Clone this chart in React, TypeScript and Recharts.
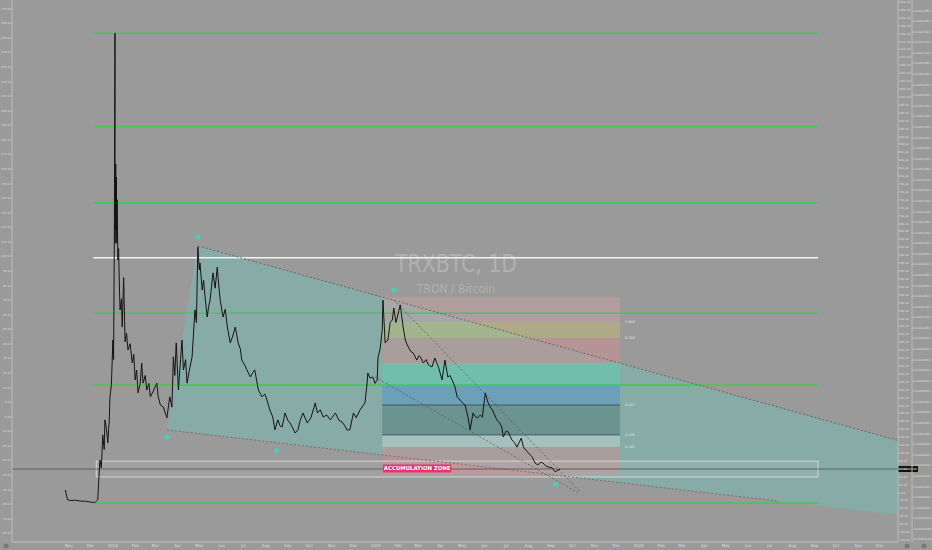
import React from "react";
import {
  ComposedChart,
  Line,
  Area,
  Scatter,
  XAxis,
  YAxis,
  ReferenceLine,
  ReferenceArea,
} from "recharts";

document.body.style.margin = "0";
document.body.style.background = "#9a9a9a";

// x = days counted from 2018-01-01, y = price in satoshi (1e-8 BTC)
const priceDays = [
  -66, -63, -59, -52, -45, -38, -31, -25, -21, -18, -16, -14, -12, -11, -9, -7, -5, -4, -2, 0, 1, 2,
  3, 3, 4, 4, 5, 5, 6, 7, 8, 9, 10, 12, 13, 15, 17, 19, 21, 24, 27, 29, 31, 33, 35, 38, 40, 42, 45,
  47, 50, 52, 56, 61, 63, 66, 70, 75, 79, 82, 84, 86, 88, 91, 94, 96, 98, 101, 103, 107, 110, 114,
  116, 118, 120, 121, 124, 126, 128, 131, 133, 135, 139, 142, 145, 146, 149, 153, 156, 159, 163,
  166, 170, 174, 177, 179, 183, 186, 191, 194, 197, 202, 207, 211, 214, 218, 222, 225, 229, 232,
  235, 239, 243, 246, 250, 253, 257, 260, 264, 270, 275, 281, 284, 288, 292, 297, 302, 309, 314,
  318, 322, 325, 329, 334, 338, 343, 350, 353, 354, 357, 361, 364, 367, 368, 371, 374, 375, 378,
  382, 385, 388, 390, 393, 395, 399, 403, 406, 410, 414, 417, 422, 425, 427, 431, 435, 438, 443,
  447, 450, 452, 457, 461, 465, 468, 471, 475, 478, 482, 486, 489, 493, 496, 500, 503, 506, 510,
  513, 517, 521, 524, 527, 533, 537, 540, 542, 546, 549, 554, 558, 561, 567, 570, 574, 577, 582,
  586, 590, 594, 597, 601, 604, 610, 614, 618, 621,
];
const priceSats = [
  67, 30, 27, 28, 25, 24, 21, 19, 30, 180, 150, 275, 220, 332, 300, 245, 330, 419, 464, 634, 560,
  975, 1795, 1000, 1300, 1050, 1250, 1000, 1164, 937, 980, 850, 748, 790, 683, 870, 627, 660, 596,
  620, 547, 580, 483, 520, 434, 470, 547, 471, 500, 445, 470, 419, 440, 471, 419, 388, 381, 339,
  419, 380, 570, 500, 623, 445, 560, 634, 521, 560, 471, 530, 570, 748, 700, 986, 900, 925, 823,
  860, 797, 721, 760, 785, 888, 830, 910, 872, 785, 721, 750, 683, 623, 645, 683, 623, 600, 558,
  540, 521, 494, 510, 521, 445, 419, 430, 407, 369, 343, 294, 332, 310, 305, 358, 330, 320, 300,
  282, 294, 330, 358, 320, 340, 396, 358, 370, 343, 350, 332, 358, 330, 324, 310, 294, 294, 358,
  340, 369, 396, 471, 509, 490, 494, 470, 483, 566, 600, 672, 785, 623, 634, 700, 710, 755, 700,
  721, 767, 683, 634, 608, 590, 585, 558, 575, 570, 547, 560, 540, 532, 566, 545, 532, 483, 558,
  494, 500, 483, 456, 419, 407, 395, 388, 343, 294, 358, 345, 339, 350, 343, 434, 396, 380, 369,
  332, 320, 305, 267, 290, 286, 256, 245, 229, 263, 229, 215, 207, 192, 169, 161, 172, 169, 158,
  154, 150, 135, 142, 146,
];

const monthTicks = [
  -61, -31, 0, 31, 59, 90, 120, 151, 181, 212, 243, 273, 304, 334, 365, 396, 424, 455, 485, 516,
  546, 577, 608, 638, 669, 699, 730, 761, 790, 821, 851, 882, 912, 943, 974, 1004, 1035, 1065,
];
const monthLabels = [
  "Nov", "Dec", "2018", "Feb", "Mar", "Apr", "May", "Jun", "Jul", "Aug", "Sep", "Oct", "Nov", "Dec",
  "2019", "Feb", "Mar", "Apr", "May", "Jun", "Jul", "Aug", "Sep", "Oct", "Nov", "Dec",
  "2020", "Feb", "Mar", "Apr", "May", "Jun", "Jul", "Aug", "Sep", "Oct", "Nov", "Dec",
];

// horizontal levels
const greenLevels = [1794, 1441, 1153, 735, 464, 17];
const whiteLevel = 945;
const levelFrom = -27;
const levelTo = 979;
const currentPrice = 146;

// falling wedge
const wedgeDays = [75, 118, 1090];
const wedgeLow = [294, 280, -28];
const wedgeHigh = [294, 990, 254];
const wedgeUpper = [
  { d: 118, p: 990 },
  { d: 1090, p: 254 },
];
const wedgeLower = [
  { d: 75, p: 294 },
  { d: 923, p: 25 },
];
const trendA = [
  { d: 390, p: 785 },
  { d: 649, p: 59 },
];
const trendB = [
  { d: 364, p: 494 },
  { d: 646, p: 56 },
];

// pivot markers
const pivotDays = [118, 75, 227, 390, 614];
const pivotSats = [1024, 267, 216, 823, 89];

// fib box
const fibFrom = 374;
const fibTo = 704;
const fibEdges = [797, 702, 642, 547, 464, 388, 275, 229, 124];
const fibLabels = ["", "0.886", "0.786", "", "", "0.382", "0.236", "0.146", ""];
const fibColors = ["#dba2a6", "#cfc46a", "#e58a8c", "#4fe0b0", "#3f8fd4", "#3d6b70", "#d8e4e4", "#e5868e"];

// accumulation zone
const zoneFrom = -23;
const zoneTo = 979;
const zoneLow = 116;
const zoneHigh = 176;
const zoneTagFrom = 375;
const zoneTagTo = 470;
const zoneTagLow = 133;
const zoneTagHigh = 163;

// axis ticks
const leftTicks = Array.from({ length: 37 }, (_, i) => 275 - i * 10);
const priceTicks = Array.from({ length: 51 }, (_, i) => -120 + i * 40);
const altTicks = Array.from({ length: 69 }, (_, i) => -120 + i * 20);

const priceData = priceDays.map((d, i) => ({ d, p: priceSats[i] }));
const wedgeData = wedgeDays.map((d, i) => ({ d, band: [wedgeLow[i], wedgeHigh[i]] }));
const pivotData = pivotDays.map((d, i) => ({ d, p: pivotSats[i] }));

const fmtSats = (v: number) => (v * 1e-8).toFixed(8);
const tickStyle = { fontSize: 2.9, fill: "#dedede" };

const PriceTag = (props: any) => {
  const vb = props.viewBox || {};
  const x = (vb.x ?? 0) + (vb.width ?? 0);
  const y = vb.y ?? 0;
  return (
    <g>
      <rect x={x} y={y - 3} width={20} height={6} fill="#111" />
      <text x={x + 10} y={y + 1.1} fontSize={2.9} fill="#eee" textAnchor="middle">
        {fmtSats(currentPrice)}
      </text>
    </g>
  );
};

const PivotDot = (props: any) => <circle cx={props.cx} cy={props.cy} r={2.6} fill="#55c9b3" />;

export default function App() {
  return (
    <div style={{ position: "relative", width: 932, height: 550, background: "#9a9a9a", overflow: "hidden" }}>
      <svg width={932} height={550} style={{ position: "absolute", left: 0, top: 0 }}>
        <text x={456} y={272} fontSize={25} fill="#b1b1b1" textAnchor="middle" textLength={122} lengthAdjust="spacingAndGlyphs" fontFamily="DejaVu Sans">
          TRXBTC, 1D
        </text>
        <text x={456} y={293} fontSize={13} fill="#b1b1b1" textAnchor="middle" textLength={78} lengthAdjust="spacingAndGlyphs" fontFamily="DejaVu Sans">
          TRON / Bitcoin
        </text>
        <circle cx={6} cy={546} r={2.5} fill="#7a7a7a" />
        <circle cx={907} cy={546} r={2.5} fill="#7a7a7a" />
        <circle cx={924} cy={546} r={2.5} fill="#7a7a7a" />
      </svg>
      <ComposedChart
        width={932}
        height={550}
        margin={{ top: 0, right: 0, bottom: 0, left: 0 }}
        style={{ fontFamily: "DejaVu Sans" }}
      >
        <XAxis
          dataKey="d"
          type="number"
          domain={[-140, 1090]}
          allowDataOverflow
          ticks={monthTicks}
          interval={0}
          tickFormatter={(v: number) => monthLabels[monthTicks.indexOf(v)] ?? ""}
          height={8}
          tick={{ fontSize: 4, fill: "#dedede" }}
          tickLine={false}
          tickSize={0}
          tickMargin={2}
          axisLine={{ stroke: "#bdbdbd" }}
        />
        <YAxis
          yAxisId="pct"
          orientation="left"
          width={12}
          type="number"
          domain={[-91, 281]}
          allowDataOverflow
          ticks={leftTicks}
          interval={0}
          tickFormatter={(v: number) => v.toFixed(2)}
          tick={tickStyle}
          tickLine={false}
          tickSize={0}
          tickMargin={0.8}
          axisLine={{ stroke: "#bdbdbd" }}
        />
        <YAxis
          yAxisId="price"
          orientation="right"
          width={20}
          type="number"
          domain={[-130, 1920]}
          allowDataOverflow
          ticks={priceTicks}
          interval={0}
          tickFormatter={fmtSats}
          tick={tickStyle}
          tickLine={false}
          tickSize={0}
          tickMargin={0.8}
          axisLine={{ stroke: "#bdbdbd" }}
        />
        <YAxis
          yAxisId="alt"
          orientation="right"
          width={14}
          type="number"
          domain={[-125, 1245]}
          allowDataOverflow
          ticks={altTicks}
          interval={0}
          tickFormatter={(v: number) => v.toFixed(2)}
          tick={tickStyle}
          tickLine={false}
          tickSize={0}
          tickMargin={0.8}
          axisLine={{ stroke: "#bdbdbd" }}
        />

        <Area
          yAxisId="price"
          data={wedgeData}
          dataKey="band"
          type="linear"
          stroke="none"
          fill="#5fd0c4"
          fillOpacity={0.32}
          isAnimationActive={false}
        />

        {fibColors.map((c, i) => (
          <ReferenceArea
            key={`fib${i}`}
            yAxisId="price"
            x1={fibFrom}
            x2={fibTo}
            y1={fibEdges[i + 1]}
            y2={fibEdges[i]}
            fill={c}
            fillOpacity={0.38}
            stroke="none"
          />
        ))}
        {fibEdges.map((v, i) => (
          <ReferenceLine
            key={`fl${i}`}
            yAxisId="price"
            segment={[
              { x: fibFrom, y: v },
              { x: fibTo, y: v },
            ]}
            stroke={i === 5 || i === 6 ? "#3c4a4a" : "none"}
            strokeWidth={0.8}
            label={fibLabels[i] ? { value: fibLabels[i], position: "right", fontSize: 3.4, fill: "#e4e4e4" } : undefined}
          />
        ))}

        <ReferenceArea
          yAxisId="price"
          x1={zoneFrom}
          x2={zoneTo}
          y1={zoneLow}
          y2={zoneHigh}
          fill="#ffffff"
          fillOpacity={0.07}
          stroke="#e8e8e8"
          strokeOpacity={0.75}
          strokeWidth={1}
        />

        {greenLevels.map((v, i) => (
          <ReferenceLine
            key={`g${i}`}
            yAxisId="price"
            segment={[
              { x: levelFrom, y: v },
              { x: levelTo, y: v },
            ]}
            stroke="#45c84f"
            strokeWidth={1.6}
          />
        ))}
        <ReferenceLine
          yAxisId="price"
          segment={[
            { x: levelFrom, y: whiteLevel },
            { x: levelTo, y: whiteLevel },
          ]}
          stroke="#f4f4f4"
          strokeWidth={1.6}
        />

        <Line yAxisId="price" data={wedgeUpper} dataKey="p" type="linear" stroke="#6a5a5a" strokeWidth={0.9} strokeDasharray="2 2" dot={false} isAnimationActive={false} />
        <Line yAxisId="price" data={wedgeLower} dataKey="p" type="linear" stroke="#8a5c5c" strokeWidth={0.9} strokeDasharray="2 2" dot={false} isAnimationActive={false} />
        <Line yAxisId="price" data={trendA} dataKey="p" type="linear" stroke="#5a5a5a" strokeWidth={0.8} strokeDasharray="2 2" dot={false} isAnimationActive={false} />
        <Line yAxisId="price" data={trendB} dataKey="p" type="linear" stroke="#5a5a5a" strokeWidth={0.8} strokeDasharray="2 2" dot={false} isAnimationActive={false} />

        <ReferenceLine yAxisId="price" y={currentPrice} stroke="#4e4e4e" strokeWidth={0.8} label={<PriceTag />} />

        <ReferenceArea
          yAxisId="price"
          x1={zoneTagFrom}
          x2={zoneTagTo}
          y1={zoneTagLow}
          y2={zoneTagHigh}
          fill="#e8336e"
          fillOpacity={1}
          stroke="none"
          label={{ value: "ACCUMULATION ZONE", position: "center", fill: "#ffffff", fontSize: 5.4, fontWeight: 700 }}
        />

        <Scatter yAxisId="price" data={pivotData} dataKey="p" shape={<PivotDot />} isAnimationActive={false} />

        <Line
          yAxisId="price"
          data={priceData}
          dataKey="p"
          type="linear"
          stroke="#141414"
          strokeWidth={1}
          dot={false}
          isAnimationActive={false}
        />
      </ComposedChart>
    </div>
  );
}
